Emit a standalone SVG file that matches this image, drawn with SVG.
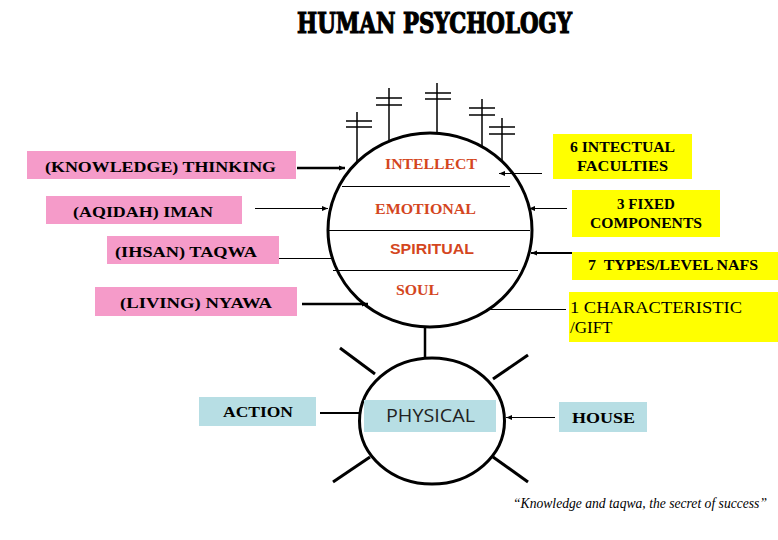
<svg xmlns="http://www.w3.org/2000/svg" width="778" height="540" viewBox="0 0 778 540">
<style>
.pink{fill:#F59BC9}
.yel{fill:#FFFF00}
.blue{fill:#B7DEE4}
.lbl{font-family:"Liberation Serif","Times New Roman",serif;font-weight:bold;font-size:15px;fill:#000}
.red{font-family:"Liberation Serif","Times New Roman",serif;font-weight:bold;font-size:15px;fill:#D4461E}
.reds{font-family:"Liberation Sans",Arial,sans-serif;font-weight:bold;font-size:14px;fill:#D4461E}
.ln{stroke:#000;fill:none}
</style>
<defs>
<marker id="ah" viewBox="0 0 10 10" refX="10" refY="5" markerWidth="6" markerHeight="6" markerUnits="userSpaceOnUse" orient="auto">
<path d="M0,1 L10,5 L0,9 z" fill="#000"/>
</marker>
</defs>
<rect width="778" height="540" fill="#fff"/>
<text x="297" y="33" font-family="'DejaVu Serif',serif" font-weight="900" font-size="27" stroke="#000" stroke-width="1.2" textLength="275" lengthAdjust="spacingAndGlyphs">HUMAN PSYCHOLOGY</text>

<g id="connectors">
<line class="ln" x1="297" y1="168" x2="345" y2="168" stroke-width="2.5" marker-end="url(#ah)"/>
<line class="ln" x1="255" y1="208.5" x2="328" y2="208.5" stroke-width="1.2" marker-end="url(#ah)"/>
<line class="ln" x1="267" y1="258.5" x2="331" y2="258.5" stroke-width="1"/>
<line class="ln" x1="302" y1="304" x2="368" y2="304" stroke-width="2.5" marker-end="url(#ah)"/>
<line class="ln" x1="542" y1="173.5" x2="499" y2="173.5" stroke-width="1" marker-end="url(#ah)"/>
<line class="ln" x1="567" y1="208.5" x2="529" y2="208.5" stroke-width="1" marker-end="url(#ah)"/>
<line class="ln" x1="573" y1="253" x2="531" y2="253" stroke-width="2" marker-end="url(#ah)"/>
<line class="ln" x1="566" y1="309.5" x2="486" y2="309.5" stroke-width="1"/>
<line class="ln" x1="425" y1="326" x2="425" y2="358" stroke-width="2.5"/>
<line class="ln" x1="320" y1="413" x2="360" y2="413" stroke-width="2"/>
<line class="ln" x1="555" y1="417.5" x2="506" y2="417.5" stroke-width="1" marker-end="url(#ah)"/>
</g>

<g id="soul-circle">
<ellipse class="ln" cx="430" cy="230" rx="102" ry="97" stroke-width="3"/>
<line class="ln" x1="342" y1="186.5" x2="510" y2="186.5" stroke-width="1.2"/>
<line class="ln" x1="328" y1="230.5" x2="530" y2="230.5" stroke-width="1.2"/>
<line class="ln" x1="333" y1="270.5" x2="518" y2="270.5" stroke-width="1.2"/>
<text class="red" x="385" y="169" textLength="92" lengthAdjust="spacingAndGlyphs">INTELLECT</text>
<text class="red" x="375" y="214" textLength="101" lengthAdjust="spacingAndGlyphs">EMOTIONAL</text>
<text class="reds" x="390" y="254" textLength="84" lengthAdjust="spacingAndGlyphs">SPIRITUAL</text>
<text class="red" x="396" y="295" textLength="43" lengthAdjust="spacingAndGlyphs">SOUL</text>
</g>

<g id="antennas" stroke="#000" stroke-width="1.5">
<line x1="357" y1="112" x2="357" y2="162"/><line x1="346" y1="121" x2="372" y2="121"/><line x1="346" y1="127" x2="372" y2="127"/>
<line x1="389" y1="88" x2="389" y2="140"/><line x1="376" y1="98" x2="402" y2="98"/><line x1="376" y1="105" x2="402" y2="105"/>
<line x1="437" y1="83" x2="437" y2="134"/><line x1="425" y1="93" x2="451" y2="93"/><line x1="425" y1="99" x2="451" y2="99"/>
<line x1="482" y1="99" x2="482" y2="147"/><line x1="469" y1="108" x2="495" y2="108"/><line x1="469" y1="115" x2="495" y2="115"/>
<line x1="502" y1="118" x2="502" y2="160"/><line x1="489" y1="127" x2="515" y2="127"/><line x1="489" y1="134" x2="515" y2="134"/>
</g>

<g id="physical">
<ellipse class="ln" cx="432" cy="421" rx="72.5" ry="63" stroke-width="3"/>
<g stroke="#000" stroke-width="3">
<line x1="340" y1="348" x2="375" y2="374"/>
<line x1="528" y1="355" x2="493" y2="379"/>
<line x1="370" y1="457" x2="333" y2="482"/>
<line x1="493" y1="457" x2="528" y2="482"/>
</g>
<rect class="blue" x="364" y="400" width="132" height="32"/>
<text x="386" y="422" font-family="'Open Sans','Liberation Sans',sans-serif" font-size="18" fill="#222" textLength="89" lengthAdjust="spacingAndGlyphs">PHYSICAL</text>
</g>

<g id="thinking"><rect class="pink" x="27" y="151" width="269" height="28"/><text class="lbl" x="45" y="172" textLength="231" lengthAdjust="spacingAndGlyphs">(KNOWLEDGE) THINKING</text></g>
<g id="iman"><rect class="pink" x="46" y="196" width="196" height="28"/><text class="lbl" x="73" y="217" textLength="140" lengthAdjust="spacingAndGlyphs">(AQIDAH) IMAN</text></g>
<g id="taqwa"><rect class="pink" x="107" y="236" width="172" height="28"/><text class="lbl" x="115" y="257" textLength="142" lengthAdjust="spacingAndGlyphs">(IHSAN) TAQWA</text></g>
<g id="nyawa"><rect class="pink" x="95" y="287" width="202" height="29"/><text class="lbl" x="120" y="308" textLength="152" lengthAdjust="spacingAndGlyphs">(LIVING) NYAWA</text></g>

<g id="faculties"><rect class="yel" x="553" y="134" width="139" height="45"/><text class="lbl" x="570" y="152" textLength="105" lengthAdjust="spacingAndGlyphs">6 INTECTUAL</text><text class="lbl" x="577" y="171" textLength="91" lengthAdjust="spacingAndGlyphs">FACULTIES</text></g>
<g id="components"><rect class="yel" x="572" y="190" width="148" height="47"/><text class="lbl" x="646" y="209" text-anchor="middle">3 FIXED</text><text class="lbl" x="590" y="228" textLength="112" lengthAdjust="spacingAndGlyphs">COMPONENTS</text></g>
<g id="nafs"><rect class="yel" x="572" y="252" width="206" height="28"/><text class="lbl" x="588" y="270" style="white-space:pre" textLength="170" lengthAdjust="spacingAndGlyphs">7  TYPES/LEVEL NAFS</text></g>
<g id="gift"><rect class="yel" x="569" y="292" width="209" height="50"/><text x="570" y="313" font-family="'Liberation Serif','Times New Roman',serif" font-size="17" textLength="172" lengthAdjust="spacingAndGlyphs">1 CHARACTERISTIC</text><text x="570" y="333" font-family="'Liberation Serif','Times New Roman',serif" font-size="17">/GIFT</text></g>

<g id="action"><rect class="blue" x="199" y="397" width="117" height="29"/><text class="lbl" x="223" y="417" textLength="70" lengthAdjust="spacingAndGlyphs">ACTION</text></g>
<g id="house"><rect class="blue" x="559" y="402" width="88" height="30"/><text class="lbl" x="572" y="423" font-size="16" textLength="63" lengthAdjust="spacingAndGlyphs">HOUSE</text></g>

<text x="513" y="508" font-family="'Liberation Serif','Times New Roman',serif" font-style="italic" font-size="14" textLength="254" lengthAdjust="spacingAndGlyphs">“Knowledge and taqwa, the secret of success”</text>
</svg>
